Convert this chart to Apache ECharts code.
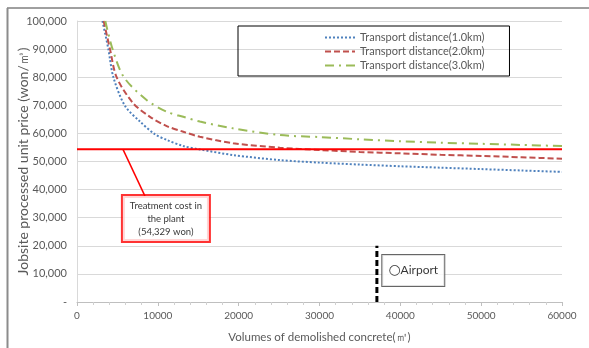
<!DOCTYPE html>
<html><head><meta charset="utf-8">
<script src="https://cdn.jsdelivr.net/npm/echarts@6/dist/echarts.min.js"></script>
<style>html,body{margin:0;padding:0;background:#fff}#c{width:589px;height:348px}</style>
</head><body><div id="c"></div>
<script>
var seriesNames = ['Transport distance(1.0km)', 'Transport distance(2.0km)', 'Transport distance(3.0km)'];
var blueX = [3150, 3880, 4500, 5940, 7800, 9650, 11100, 13150, 15200, 19300, 25100, 30000, 35000, 40000, 45000, 50000, 55000, 60000];
var blueY = [100000, 90000, 80000, 69800, 64200, 59700, 57700, 55500, 54300, 52300, 50500, 49600, 48900, 48300, 47800, 47300, 46800, 46300];
var redX = [3300, 4080, 4900, 6960, 9030, 11100, 13150, 15200, 19300, 25100, 30000, 35000, 40000, 45000, 50000, 55000, 60000];
var redY = [100000, 90000, 80000, 70700, 65900, 62600, 60600, 58800, 56500, 54900, 54100, 53400, 52900, 52400, 52000, 51500, 51000];
var greenX = [3500, 4400, 5800, 8610, 11100, 13150, 15200, 19300, 25100, 30000, 35000, 40000, 45000, 50000, 55000, 60000];
var greenY = [100000, 90000, 80000, 71900, 67700, 65900, 64200, 61800, 59400, 58700, 57900, 57200, 56700, 56300, 55900, 55500];
var plantCost = 54329;
var plantX = [0, 60000];
var leaderX = [5690, 8410];
var leaderY = [54329, 37700];
var plantLabelPos = [11000, 29700];
var plantLabel = 'Treatment cost in\nthe plant\n(54,329 won)';
var airportX = 37100;
var airportY = [0, 20000];
var airportLabelPos = [41600, 11200];
var airportLabel = '{c|\u25CB}Airport';
var xTicks = [0, 10000, 20000, 30000, 40000, 50000, 60000];

function pairs(xs, ys) { return xs.map(function (x, i) { return [x, ys[i]]; }); }

var chart = echarts.init(document.getElementById('c'));
var fontF = 'Lato, Open Sans, sans-serif';
chart.setOption({
  animation: false,
  textStyle: { fontFamily: fontF },
  grid: { left: 77, right: 27, top: 21, bottom: 46, outerBoundsMode: 'none', containLabel: false },
  legend: {
    data: seriesNames,
    orient: 'vertical',
    left: 238, top: 26,
    padding: [6, 25, 5, 86],
    itemGap: 3,
    itemWidth: 30, itemHeight: 12,
    borderColor: '#000', borderWidth: 1,
    itemStyle: { opacity: 0 },
    textStyle: { fontSize: 11, color: '#595959', fontFamily: fontF }
  },
  xAxis: {
    type: 'value', min: 0, max: 60000, interval: 10000,
    name: 'Volumes of demolished concrete(\u33A5)',
    nameLocation: 'middle', nameGap: 29, nameMoveOverlap: false,
    nameTextStyle: { fontSize: 11.5, color: '#595959' },
    axisLine: { lineStyle: { color: '#bfbfbf' } },
    axisTick: { show: true, inside: false, length: 4, lineStyle: { color: '#bfbfbf' } },
    minorTick: { show: true, splitNumber: 5, length: 3, lineStyle: { color: '#d0d0d0' } },
    splitLine: { show: false },
    axisLabel: { fontSize: 10, color: '#595959', margin: 9,
      formatter: function (v) { return xTicks.indexOf(v) >= 0 ? String(v) : ''; } }
  },
  yAxis: {
    type: 'value', min: 0, max: 100000, interval: 10000,
    name: 'Jobsite processed unit price (won/\u33A5)',
    nameLocation: 'middle', nameGap: 47, nameMoveOverlap: false,
    nameTextStyle: { fontSize: 14, color: '#595959' },
    axisLine: { show: true, lineStyle: { color: '#d9d9d9' } },
    axisTick: { show: false },
    splitLine: { lineStyle: { color: '#d9d9d9' } },
    axisLabel: { fontSize: 11, color: '#595959', margin: 10,
      formatter: function (v) { return v === 0 ? '-' : v.toLocaleString('en-US'); } }
  },
  graphic: [
    { type: 'line', shape: { x1: 7, y1: 8, x2: 589, y2: 8 }, style: { stroke: '#404040', lineWidth: 1 } },
    { type: 'line', shape: { x1: 7.5, y1: 8, x2: 7.5, y2: 348 }, style: { stroke: '#8c8c8c', lineWidth: 2 } }
  ],
  series: [
    { name: seriesNames[0], type: 'line', smooth: 0.3, symbol: 'none', data: pairs(blueX, blueY),
      lineStyle: { color: '#4f81bd', width: 2, type: [2, 2] }, itemStyle: { color: '#4f81bd' }, z: 3 },
    { name: seriesNames[1], type: 'line', smooth: 0.3, symbol: 'none', data: pairs(redX, redY),
      lineStyle: { color: '#c0504d', width: 2, type: [6, 3] }, itemStyle: { color: '#c0504d' }, z: 3 },
    { name: seriesNames[2], type: 'line', smooth: 0.3, symbol: 'none', data: pairs(greenX, greenY),
      lineStyle: { color: '#9bbb59', width: 2, type: [9, 5, 2, 5] }, itemStyle: { color: '#9bbb59' }, z: 3 },
    { name: 'plant', type: 'line', symbol: 'none', data: pairs(plantX, [plantCost, plantCost]),
      lineStyle: { color: '#ff0000', width: 2 }, z: 4 },
    { name: 'leader', type: 'line', symbol: 'none', data: pairs(leaderX, leaderY),
      lineStyle: { color: '#ff0000', width: 1.5 }, z: 4 },
    { name: 'plantLabel', type: 'scatter', symbolSize: 0, data: [plantLabelPos], z: 5,
      label: { show: true, position: 'inside', formatter: plantLabel, fontSize: 9.5, color: '#000',
        lineHeight: 13, align: 'center', backgroundColor: '#fff', borderColor: '#ff0000', borderWidth: 2,
        width: 82, padding: [3, 2, 3, 2] } },
    { name: 'airport', type: 'line', symbol: 'none', data: pairs([airportX, airportX], airportY),
      lineStyle: { color: '#000', width: 3, type: [6, 3] }, z: 4 },
    { name: 'airportLabel', type: 'scatter', symbolSize: 0, data: [airportLabelPos], z: 5,
      label: { show: true, position: 'inside', formatter: airportLabel, fontSize: 12, color: '#000',
        backgroundColor: '#fff', borderColor: '#404040', borderWidth: 1,
        width: 54, height: 23, lineHeight: 23, align: 'center', padding: [4, 4, 4, 4],
        rich: { c: { fontSize: 14, fontFamily: 'DejaVu Sans', color: '#000', lineHeight: 23 } } } }
  ]
});
</script></body></html>
